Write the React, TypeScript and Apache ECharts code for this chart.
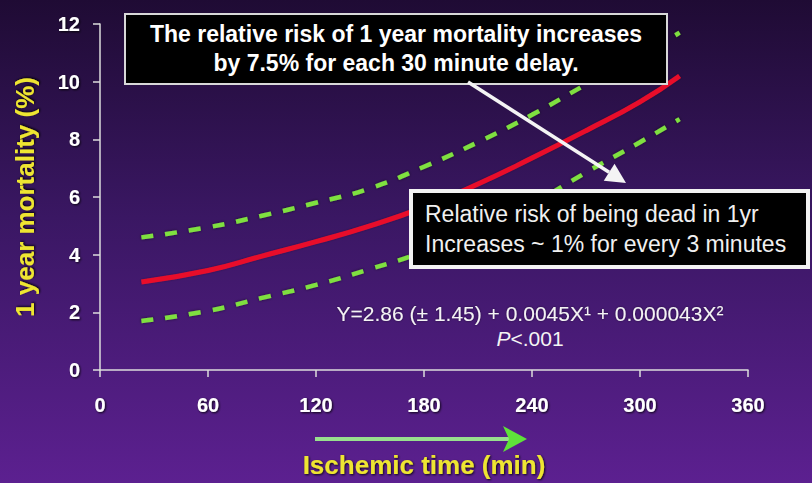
import React, { useEffect, useRef } from "react";
import * as echarts from "echarts";

// Ischemic time (min) at which the curves were read
const ischemicMinutes = [23, 60, 90, 120, 150, 180, 210, 240, 270, 300, 322];
// fitted 1-year mortality (%)
const fittedMortality = [3.05, 3.45, 3.95, 4.45, 5.0, 5.65, 6.45, 7.35, 8.3, 9.3, 10.2];
// upper confidence limit (%)
const upperLimit = [4.6, 4.95, 5.35, 5.8, 6.3, 7.05, 7.9, 8.85, 9.9, 10.9, 11.7];
// lower confidence limit (%)
const lowerLimit = [1.7, 2.05, 2.5, 2.95, 3.5, 4.1, 4.8, 5.75, 6.85, 7.9, 8.7];

const xTicks = [0, 60, 120, 180, 240, 300, 360];
const yTicks = [0, 2, 4, 6, 8, 10, 12];

const boxText1 = ["The relative risk of 1 year mortality increases", "by 7.5% for each 30 minute delay."];
const boxText2 = ["Relative risk of being dead in 1yr", "Increases ~ 1% for every 3 minutes"];
const equationText = "Y=2.86 (\u00b1 1.45) + 0.0045X\u00b9 + 0.000043X\u00b2";

const FONT = 'Arial, "Liberation Sans", Helvetica, sans-serif';

function pairs(xs: number[], ys: number[]) {
  return xs.map((x, i) => [x, ys[i]]);
}

function arrowHead(x1: number, y1: number, x2: number, y2: number, len: number, half: number) {
  const dx = x2 - x1;
  const dy = y2 - y1;
  const d = Math.sqrt(dx * dx + dy * dy);
  const ux = dx / d;
  const uy = dy / d;
  const bx = x2 - ux * len;
  const by = y2 - uy * len;
  return [
    [x2, y2],
    [bx - uy * half, by + ux * half],
    [bx, by],
    [bx + uy * half, by - ux * half],
  ];
}

export default function App() {
  const ref = useRef<HTMLDivElement>(null);

  useEffect(() => {
    if (!ref.current) return;
    const chart = echarts.init(ref.current, undefined, { renderer: "svg" });

    const labelShadow = {
      textShadowColor: "rgba(0,0,0,0.85)",
      textShadowBlur: 2,
      textShadowOffsetX: 1,
      textShadowOffsetY: 1,
    };

    const green = "#7fe040";
    const dashed = {
      color: green,
      width: 4.5,
      type: [12, 12] as any,
      shadowColor: "rgba(0,0,0,0.55)",
      shadowBlur: 3,
    };

    const wStart = [468, 82];
    const wEnd = [626, 183];
    const wHead = arrowHead(wStart[0], wStart[1], wEnd[0], wEnd[1], 20, 10);

    chart.setOption({
      animation: false,
      backgroundColor: new echarts.graphic.LinearGradient(0, 0, 0, 1, [
        { offset: 0, color: "#1f0b34" },
        { offset: 0.45, color: "#3a1763" },
        { offset: 1, color: "#5c2090" },
      ]),
      grid: { left: 100, right: 64, top: 24, bottom: 110, containLabel: false },
      xAxis: {
        type: "value",
        min: 0,
        max: 360,
        interval: 60,
        name: "Ischemic time (min)",
        nameLocation: "middle",
        nameGap: 82,
        nameTextStyle: {
          color: "#eee530",
          fontSize: 26,
          fontWeight: "bold",
          fontFamily: FONT,
          verticalAlign: "top",
          ...labelShadow,
        },
        axisLine: { show: true, lineStyle: { color: "#dcdcdc", width: 1.5 } },
        axisTick: { show: true, length: 7, lineStyle: { color: "#dcdcdc", width: 1.5 } },
        splitLine: { show: false },
        axisLabel: {
          color: "#ffffff",
          fontSize: 20,
          fontWeight: "bold",
          fontFamily: FONT,
          margin: 25,
          formatter: (v: number) => (xTicks.includes(v) ? String(v) : ""),
          ...labelShadow,
        },
      },
      yAxis: {
        type: "value",
        min: 0,
        max: 12,
        interval: 2,
        name: "1 year mortality (%)",
        nameLocation: "middle",
        nameGap: 62,
        nameRotate: 90,
        nameTextStyle: {
          color: "#eee530",
          fontSize: 26,
          fontWeight: "bold",
          fontFamily: FONT,
          ...labelShadow,
        },
        axisLine: { show: true, lineStyle: { color: "#dcdcdc", width: 1.5 } },
        axisTick: { show: true, length: 7, lineStyle: { color: "#dcdcdc", width: 1.5 } },
        splitLine: { show: false },
        axisLabel: {
          color: "#ffffff",
          fontSize: 20,
          fontWeight: "bold",
          fontFamily: FONT,
          margin: 20,
          formatter: (v: number) => (yTicks.includes(v) ? String(v) : ""),
          ...labelShadow,
        },
      },
      series: [
        {
          name: "Upper limit",
          type: "line",
          smooth: true,
          symbol: "none",
          data: pairs(ischemicMinutes, upperLimit),
          lineStyle: dashed,
          z: 3,
        },
        {
          name: "Lower limit",
          type: "line",
          smooth: true,
          symbol: "none",
          data: pairs(ischemicMinutes, lowerLimit),
          lineStyle: dashed,
          z: 3,
        },
        {
          name: "Fitted",
          type: "line",
          smooth: true,
          symbol: "none",
          data: pairs(ischemicMinutes, fittedMortality),
          lineStyle: { color: "#e8102c", width: 5, shadowColor: "rgba(0,0,0,0.3)", shadowBlur: 2 },
          z: 4,
        },
      ],
      graphic: [
        // box 1
        {
          type: "rect",
          shape: { x: 125, y: 14, width: 542, height: 70 },
          style: { fill: "#000000", stroke: "#d8d8d8", lineWidth: 2 },
          z: 100,
        },
        {
          type: "text",
          x: 396,
          y: 34,
          style: {
            text: boxText1[0],
            fill: "#ffffff",
            font: `bold 23px ${FONT}`,
            align: "center",
            verticalAlign: "middle",
          },
          z: 101,
        },
        {
          type: "text",
          x: 396,
          y: 63,
          style: {
            text: boxText1[1],
            fill: "#ffffff",
            font: `bold 23px ${FONT}`,
            align: "center",
            verticalAlign: "middle",
          },
          z: 101,
        },
        // white arrow
        {
          type: "line",
          shape: { x1: wStart[0], y1: wStart[1], x2: wHead[2][0], y2: wHead[2][1] },
          style: { stroke: "#f4f4f4", lineWidth: 3.5 },
          z: 102,
        },
        {
          type: "polygon",
          shape: { points: wHead },
          style: { fill: "#f4f4f4" },
          z: 102,
        },
        // box 2
        {
          type: "rect",
          shape: { x: 411, y: 191, width: 397, height: 76 },
          style: { fill: "#000000", stroke: "#f2f2f2", lineWidth: 4 },
          z: 100,
        },
        {
          type: "text",
          x: 425,
          y: 214,
          style: {
            text: boxText2[0],
            fill: "#f0f0f0",
            font: `23px ${FONT}`,
            align: "left",
            verticalAlign: "middle",
          },
          z: 101,
        },
        {
          type: "text",
          x: 425,
          y: 244,
          style: {
            text: boxText2[1],
            fill: "#f0f0f0",
            font: `23px ${FONT}`,
            align: "left",
            verticalAlign: "middle",
          },
          z: 101,
        },
        // equation
        {
          type: "text",
          x: 530,
          y: 313,
          style: {
            text: equationText,
            fill: "#f4f4f4",
            font: `21px ${FONT}`,
            align: "center",
            verticalAlign: "middle",
            textShadowColor: "rgba(0,0,0,0.5)",
            textShadowBlur: 2,
          },
          z: 101,
        },
        {
          type: "text",
          x: 530,
          y: 338,
          style: {
            text: "{i|P}<.001",
            fill: "#f4f4f4",
            font: `21px ${FONT}`,
            align: "center",
            verticalAlign: "middle",
            rich: {
              i: { fontStyle: "italic", fontSize: 21, fontFamily: FONT, fill: "#f4f4f4" },
            },
          },
          z: 101,
        },
        // green arrow under x axis
        {
          type: "line",
          shape: { x1: 315, y1: 439, x2: 510, y2: 439 },
          style: { stroke: "#98e08e", lineWidth: 4 },
          z: 100,
        },
        {
          type: "polygon",
          shape: { points: [[527, 439], [503, 426], [509, 439], [503, 452]] },
          style: { fill: "#5fe23a" },
          z: 100,
        },
      ],
    });

    return () => chart.dispose();
  }, []);

  return (
    <div
      ref={ref}
      style={{ position: "fixed", left: 0, top: 0, width: 812, height: 483 }}
    />
  );
}
